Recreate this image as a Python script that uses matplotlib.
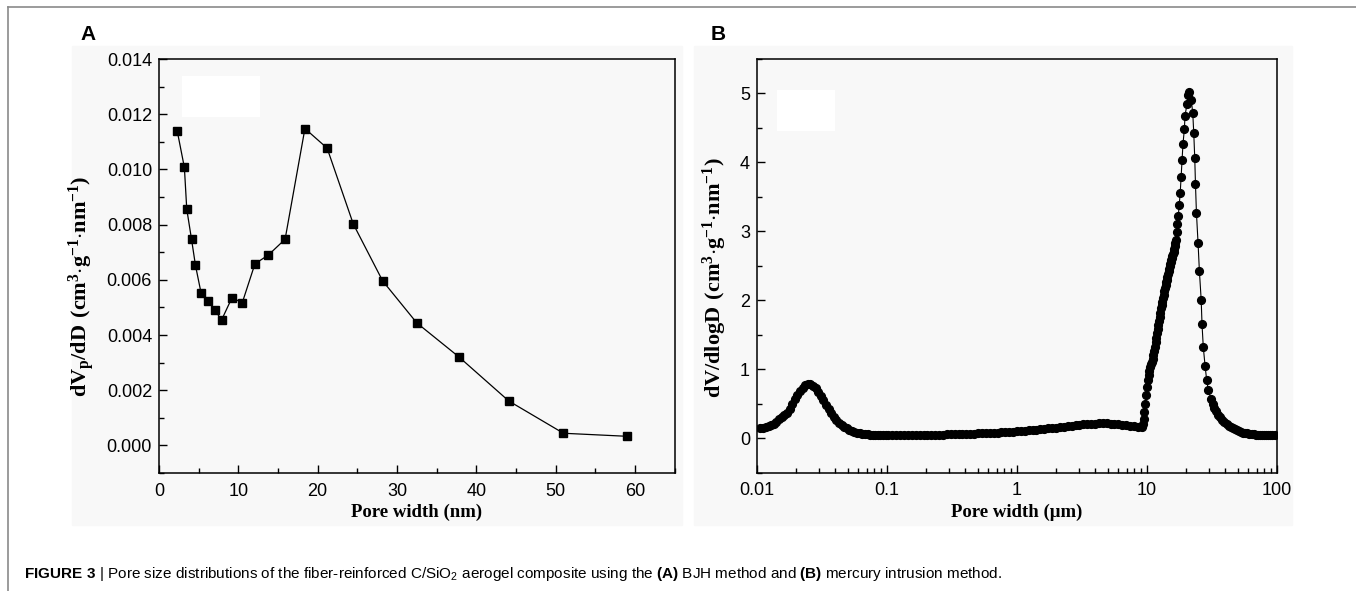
import matplotlib.pyplot as plt
from matplotlib.ticker import MultipleLocator, FixedLocator, FixedFormatter, LogLocator, NullFormatter
from matplotlib.patches import Rectangle
from matplotlib.lines import Line2D

plt.rcParams["font.family"] = ["Liberation Sans", "DejaVu Sans"]
plt.rcParams["mathtext.fontset"] = "custom"
plt.rcParams["mathtext.rm"] = "Liberation Sans"
plt.rcParams["mathtext.sf"] = "Liberation Sans:bold"
plt.rcParams["mathtext.bf"] = "Liberation Serif:bold"

# (A) BJH pore size distribution
bjh_width = [2.3, 3.2, 3.5, 4.1, 4.6, 5.3, 6.2, 7.0, 7.9, 9.2, 10.5, 12.1, 13.8,
             15.9, 18.4, 21.2, 24.5, 28.2, 32.5, 37.8, 44.1, 51.0, 59.0]
bjh_dv = [0.01139, 0.01007, 0.00856, 0.00747, 0.00652, 0.00553, 0.00522, 0.00491,
          0.00455, 0.00535, 0.00517, 0.00658, 0.00690, 0.00747, 0.01148, 0.01077,
          0.00802, 0.00596, 0.00444, 0.00321, 0.00161, 0.00044, 0.00033]

# (B) mercury intrusion, pore width in um
hg_width = [
    0.0105, 0.0111, 0.0117, 0.0123, 0.0129, 0.0135, 0.0141, 0.0148, 0.0155, 0.0162,
    0.0170, 0.0178, 0.0186, 0.0195, 0.0204, 0.0214, 0.0224, 0.0234, 0.0245, 0.0257,
    0.0269, 0.0282, 0.0295, 0.0309, 0.0324, 0.0339, 0.0355, 0.0372, 0.0390, 0.0408,
    0.0427, 0.0447, 0.0468, 0.0490, 0.0513, 0.0537, 0.0562, 0.0589, 0.0617, 0.0646,
    0.0676, 0.0708, 0.0741, 0.0776, 0.0813, 0.0851, 0.0891, 0.0933, 0.0977,
    0.102, 0.110, 0.117, 0.126, 0.135, 0.145, 0.155, 0.166, 0.178, 0.191,
    0.204, 0.219, 0.234, 0.251, 0.269, 0.288, 0.309, 0.331, 0.355, 0.380,
    0.407, 0.437, 0.468, 0.501, 0.537, 0.575, 0.617, 0.661, 0.708, 0.759,
    0.813, 0.871, 0.933, 1.00, 1.07, 1.15, 1.23, 1.32, 1.41, 1.51,
    1.62, 1.74, 1.86, 2.00, 2.14, 2.29, 2.45, 2.63, 2.82, 3.02,
    3.24, 3.47, 3.72, 3.98, 4.27, 4.57, 4.90, 5.25, 5.62, 6.03,
    6.46, 6.92, 7.41, 7.94, 8.51, 9.12,
    9.25, 9.40, 9.55, 9.70, 9.85, 10.0, 10.15, 10.3, 10.45, 10.6,
    10.75, 10.9, 11.05, 11.2, 11.35, 11.5, 11.65, 11.8, 11.95, 12.1,
    12.25, 12.4, 12.55, 12.7, 12.85, 13.0, 13.15, 13.3, 13.45, 13.6,
    13.75, 13.9, 14.05, 14.2, 14.35, 14.5, 14.65, 14.8, 14.95, 15.1,
    15.25, 15.4, 15.55, 15.7, 15.85, 16.0, 16.15, 16.3, 16.45, 16.6,
    16.9, 17.1, 17.4, 17.7, 18.0, 18.3, 18.6, 18.9, 19.4, 19.6,
    20.3, 20.7, 21.2,
    21.9, 22.5, 22.9, 23.3, 23.6, 24.0, 24.7, 25.3, 26.1, 26.5,
    27.1, 28.0, 28.8, 29.7, 31.1,
    32.0, 33.0, 34.0, 35.3, 36.6, 38.0, 39.4, 40.9, 42.4, 44.0,
    45.7, 47.4, 49.2, 51.0, 53.0, 55.0, 57.0, 59.2, 61.4, 63.7,
    66.1, 68.6, 71.2, 73.9, 76.7, 79.6, 82.6, 85.7, 88.9, 92.3, 95.8,
]
hg_dv = [
    0.15, 0.15, 0.16, 0.17, 0.19, 0.21, 0.24, 0.27, 0.30, 0.33,
    0.37, 0.42, 0.49, 0.56, 0.62, 0.68, 0.73, 0.77, 0.79, 0.79,
    0.76, 0.72, 0.67, 0.61, 0.55, 0.48, 0.42, 0.36, 0.31, 0.26,
    0.22, 0.19, 0.16, 0.14, 0.12, 0.10, 0.09, 0.08, 0.07, 0.065,
    0.06, 0.055, 0.05, 0.05, 0.05, 0.045, 0.045, 0.045, 0.045,
    0.045, 0.045, 0.045, 0.045, 0.045, 0.045, 0.045, 0.046, 0.046, 0.047,
    0.047, 0.048, 0.049, 0.050, 0.051, 0.052, 0.053, 0.055, 0.056, 0.058,
    0.060, 0.062, 0.064, 0.066, 0.068, 0.070, 0.073, 0.076, 0.079, 0.082,
    0.086, 0.090, 0.094, 0.098, 0.102, 0.107, 0.112, 0.117, 0.122, 0.128,
    0.134, 0.140, 0.146, 0.152, 0.158, 0.165, 0.172, 0.179, 0.186, 0.193,
    0.199, 0.204, 0.208, 0.211, 0.213, 0.214, 0.213, 0.210, 0.205, 0.198,
    0.190, 0.182, 0.175, 0.168, 0.160, 0.155,
    0.20, 0.28, 0.38, 0.50, 0.62, 0.74, 0.84, 0.92, 0.98, 1.03,
    1.07, 1.11, 1.15, 1.20, 1.26, 1.32, 1.39, 1.45, 1.52, 1.58,
    1.64, 1.70, 1.76, 1.82, 1.88, 1.93, 1.98, 2.03, 2.08, 2.13,
    2.18, 2.22, 2.26, 2.30, 2.34, 2.38, 2.42, 2.46, 2.50, 2.53,
    2.56, 2.58, 2.61, 2.64, 2.67, 2.70, 2.74, 2.78, 2.83, 2.88,
    2.99, 3.10, 3.22, 3.38, 3.55, 3.79, 4.03, 4.26, 4.49, 4.68,
    4.84, 4.98, 5.02,
    4.91, 4.71, 4.42, 4.06, 3.68, 3.27, 2.83, 2.42, 2.01, 1.65,
    1.32, 1.04, 0.835, 0.69, 0.56,
    0.50, 0.44, 0.39, 0.34, 0.30, 0.26, 0.23, 0.20, 0.18, 0.16,
    0.14, 0.125, 0.11, 0.10, 0.09, 0.08, 0.072, 0.066, 0.061, 0.057,
    0.053, 0.050, 0.048, 0.046, 0.045, 0.044, 0.043, 0.042, 0.042, 0.041, 0.041,
]

W, H = 1356, 591
fig = plt.figure(figsize=(W / 100, H / 100), dpi=100)


def px_rect(x0, y0, x1, y1):
    # figure fraction from pixel box (origin top-left)
    return [x0 / W, 1 - y1 / H, (x1 - x0) / W, (y1 - y0) / H]


# faint panel backgrounds behind the axes
for x0, x1 in [(72, 682), (694, 1292)]:
    fig.patches.append(Rectangle((x0 / W, 1 - 525 / H), (x1 - x0) / W, (525 - 46) / H,
                                 transform=fig.transFigure, color="#f8f8f8", zorder=-5))

# outer frame (top and left edges)
fig.add_artist(Line2D([8 / W, 1], [1 - 7 / H, 1 - 7 / H], color="#8a8a8a", lw=1.2))
fig.add_artist(Line2D([8 / W, 8 / W], [0, 1 - 7 / H], color="#8a8a8a", lw=1.2))

tick_family = ["Liberation Sans", "DejaVu Sans"]
label_font = dict(fontfamily="Liberation Serif", fontweight="bold", fontsize=13.5)


def style_axes(ax):
    ax.set_facecolor("#f8f8f8")
    for s in ax.spines.values():
        s.set_linewidth(1.1)
    ax.tick_params(which="both", direction="in", top=False, right=False, width=1.0)
    ax.tick_params(which="major", length=6)
    ax.tick_params(which="minor", length=3.5)
    ax.tick_params(axis="x", pad=7)
    ax.tick_params(axis="y", pad=5)
    for lab in ax.get_xticklabels() + ax.get_yticklabels():
        lab.set_fontfamily(tick_family)
        lab.set_fontsize(13)


# ---- panel A ----
axA = fig.add_axes(px_rect(159, 59, 674.5, 473))
axA.plot(bjh_width, bjh_dv, "-s", color="black", lw=0.9, ms=5.6)
axA.set_xlim(0, 65)
axA.set_ylim(-0.001, 0.014)
axA.xaxis.set_major_locator(MultipleLocator(10))
axA.xaxis.set_minor_locator(MultipleLocator(5))
axA.yaxis.set_major_locator(MultipleLocator(0.002))
axA.yaxis.set_minor_locator(MultipleLocator(0.001))
axA.yaxis.set_major_formatter(plt.FuncFormatter(lambda v, p: f"{v:.3f}"))
axA.add_patch(Rectangle((2.9, 0.0119), 9.8, 0.0015, color="white", zorder=0.5, lw=0))
style_axes(axA)
axA.set_xlabel("Pore width (nm)", **label_font)
axA.xaxis.set_label_coords(0.5, -0.075)
axA.set_ylabel(r"$\mathbf{dV_p/dD\ (cm^3{\cdot}g^{-1}{\cdot}nm^{-1})}$", fontsize=16)
axA.yaxis.set_label_coords(-0.12, 0.45)

# ---- panel B ----
axB = fig.add_axes(px_rect(757, 59, 1277, 472.5))
axB.plot(hg_width, hg_dv, "-o", color="black", lw=0.8, ms=5.6)
axB.set_xscale("log")
axB.set_xlim(0.01, 100)
axB.set_ylim(-0.5, 5.5)
axB.xaxis.set_major_locator(FixedLocator([0.01, 0.1, 1, 10, 100]))
axB.xaxis.set_major_formatter(FixedFormatter(["0.01", "0.1", "1", "10", "100"]))
axB.xaxis.set_minor_locator(LogLocator(base=10, subs=range(2, 10)))
axB.xaxis.set_minor_formatter(NullFormatter())
axB.yaxis.set_major_locator(MultipleLocator(1))
axB.yaxis.set_minor_locator(MultipleLocator(0.5))
axB.add_patch(Rectangle((0.0143, 4.45), 0.0253, 0.6, color="white", zorder=0.5, lw=0))
style_axes(axB)
axB.set_xlabel("Pore width (\u03bcm)", **label_font)
axB.xaxis.set_label_coords(0.5, -0.075)
axB.set_ylabel(r"$\mathbf{dV/dlogD\ (cm^3{\cdot}g^{-1}{\cdot}nm^{-1})}$", fontsize=16)
axB.yaxis.set_label_coords(-0.054, 0.47)

# panel letters
fig.text(88.5 / W, 1 - 34 / H, "A", fontsize=15, fontweight="bold", ha="center", va="center")
fig.text(718 / W, 1 - 34 / H, "B", fontsize=15, fontweight="bold", ha="center", va="center")

# caption
fig.text(24 / W, 1 - 574 / H,
         r"$\mathsf{FIGURE\ 3}$ | Pore size distributions of the fiber-reinforced C/SiO$_2$ "
         r"aerogel composite using the $\mathsf{(A)}$ BJH method and $\mathsf{(B)}$ "
         r"mercury intrusion method.",
         fontsize=11, ha="left", va="center")

fig.savefig("out.png", dpi=100)
